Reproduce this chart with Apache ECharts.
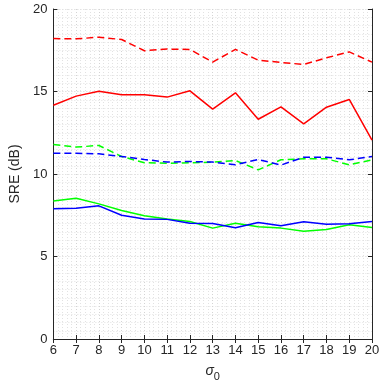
<!DOCTYPE html>
<html>
<head>
<meta charset="utf-8">
<script src="https://cdn.jsdelivr.net/npm/echarts@6/dist/echarts.min.js"></script>
<style>
  html, body { margin: 0; padding: 0; background: #fff; }
  #chart { width: 383px; height: 388px; }
</style>
</head>
<body>
<div id="chart"></div>
<script>
// sigma_0 values on the x axis
const sigma = [6, 7, 8, 9, 10, 11, 12, 13, 14, 15, 16, 17, 18, 19, 20];

// SRE (dB) per curve
const redDashed   = [18.21, 18.19, 18.29, 18.15, 17.47, 17.57, 17.55, 16.78, 17.55, 16.90, 16.76, 16.64, 17.04, 17.40, 16.78];
const redSolid    = [14.17, 14.72, 15.02, 14.80, 14.80, 14.66, 15.04, 13.93, 14.92, 13.32, 14.07, 13.04, 14.05, 14.52, 12.05];
const greenDashed = [11.79, 11.63, 11.73, 11.06, 10.68, 10.65, 10.68, 10.72, 10.82, 10.25, 10.86, 10.92, 10.92, 10.56, 10.86];
const blueDashed  = [11.26, 11.26, 11.22, 11.06, 10.88, 10.72, 10.76, 10.72, 10.56, 10.88, 10.54, 11.02, 11.02, 10.86, 11.06];
const greenSolid  = [8.37, 8.53, 8.19, 7.79, 7.47, 7.27, 7.12, 6.72, 7.02, 6.80, 6.72, 6.53, 6.63, 6.92, 6.76];
const blueSolid   = [7.89, 7.93, 8.07, 7.50, 7.27, 7.25, 7.02, 7.00, 6.74, 7.06, 6.86, 7.10, 6.96, 6.98, 7.12];

const font = 'Liberation Sans, Arial, Helvetica, sans-serif';
const axisColor = '#262626';

function pairs(ys) {
  return sigma.map((x, i) => [x, ys[i]]);
}

function line(name, ys, color, dashed) {
  return {
    name: name,
    type: 'line',
    data: pairs(ys),
    symbol: 'none',
    lineStyle: { color: color, width: 1.5, type: dashed ? [7, 4] : 'solid' },
    itemStyle: { color: color },
    animation: false
  };
}

const chart = echarts.init(document.getElementById('chart'));

const gridLine = { show: true, lineStyle: { color: '#d4d4d4', type: [1, 2], width: 1 } };
const minorLine = { show: true, lineStyle: { color: '#e2e2e2', type: [1, 2], width: 1 } };

chart.setOption({
  animation: false,
  grid: { left: 41, right: 11, top: 9, bottom: 49 },
  xAxis: [
    {
      type: 'value',
      min: 6, max: 20, interval: 1,
      name: '{s|σ}{sub|0}',
      nameLocation: 'middle',
      nameGap: 22,
      nameTextStyle: {
        rich: {
          s: { fontFamily: font, fontSize: 14, fontStyle: 'italic', color: axisColor },
          sub: { fontFamily: font, fontSize: 11, color: axisColor, verticalAlign: 'bottom', padding: [10, 0, 0, 0] }
        }
      },
      axisLine: { lineStyle: { color: axisColor, width: 1 } },
      axisTick: { inside: true, length: 4, lineStyle: { color: axisColor } },
      axisLabel: { color: axisColor, fontFamily: font, fontSize: 13, margin: 5 },
      splitLine: gridLine,
      minorTick: { show: false, splitNumber: 5 },
      minorSplitLine: minorLine
    },
    {
      type: 'value', position: 'top',
      min: 6, max: 20, interval: 1,
      axisLine: { show: true, lineStyle: { color: axisColor, width: 1 } },
      axisTick: { inside: true, length: 4, lineStyle: { color: axisColor } },
      axisLabel: { show: false },
      splitLine: { show: false }
    }
  ],
  yAxis: [
    {
      type: 'value',
      min: 0, max: 20, interval: 5,
      name: 'SRE (dB)',
      nameLocation: 'middle',
      nameGap: 20,
      nameTextStyle: { color: axisColor, fontFamily: font, fontSize: 14 },
      axisLine: { show: true, lineStyle: { color: axisColor, width: 1 } },
      axisTick: { show: true, inside: true, length: 4, lineStyle: { color: axisColor } },
      axisLabel: { color: axisColor, fontFamily: font, fontSize: 13, margin: 6 },
      splitLine: gridLine,
      minorTick: { show: false, splitNumber: 10 },
      minorSplitLine: minorLine
    },
    {
      type: 'value', position: 'right',
      min: 0, max: 20, interval: 5,
      axisLine: { show: true, lineStyle: { color: axisColor, width: 1 } },
      axisTick: { show: true, inside: true, length: 4, lineStyle: { color: axisColor } },
      axisLabel: { show: false },
      splitLine: { show: false }
    }
  ],
  series: [
    line('red dashed', redDashed, '#ff0000', true),
    line('red solid', redSolid, '#ff0000', false),
    line('green dashed', greenDashed, '#00ff00', true),
    line('blue dashed', blueDashed, '#0000ff', true),
    line('green solid', greenSolid, '#00ff00', false),
    line('blue solid', blueSolid, '#0000ff', false)
  ]
});
</script>
</body>
</html>
